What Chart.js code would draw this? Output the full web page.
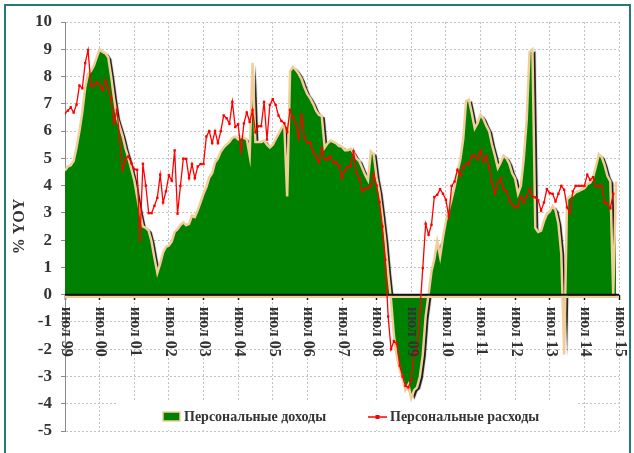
<!DOCTYPE html>
<html>
<head>
<meta charset="utf-8">
<script src="https://cdn.jsdelivr.net/npm/chart.js@4.4.1/dist/chart.umd.min.js"></script>
<style>
  html, body { margin: 0; padding: 0; background: #fff; }
  #wrap { position: relative; width: 634px; height: 453px; overflow: hidden; }
  #wrap canvas { position: absolute; left: 0; top: 0; }
  #frame { position: absolute; left: 4px; top: 4px; width: 623px; height: 470px;
           border: 2px solid #257a78; pointer-events: none; }
</style>
</head>
<body>
<div id="wrap">
  <canvas id="chart" width="634" height="453"></canvas>
  <div id="frame"></div>
</div>
<script>
// year ticks, one every 12 months starting July 1999
const tickLabels = ['июл 99', 'июл 00', 'июл 01', 'июл 02', 'июл 03', 'июл 04', 'июл 05', 'июл 06',
                    'июл 07', 'июл 08', 'июл 09', 'июл 10', 'июл 11', 'июл 12', 'июл 13', 'июл 14', 'июл 15'];
const seriesNames = ['Персональные доходы', 'Персональные расходы'];

// personal income, % YoY, monthly from Jul 99
const income = [
  4.55, 4.7, 4.75, 4.9, 5.4, 6.0, 6.7, 7.6, 8.1, 8.2, 8.4, 8.7,
  9.0, 8.9, 8.85, 8.7, 8.0, 7.2, 6.5, 6.15, 5.8, 5.35, 5.0, 4.6,
  4.2, 3.6, 3.0, 2.5, 2.45, 2.35, 1.95, 1.35, 0.8, 1.15, 1.55, 1.75,
  1.8, 1.95, 2.3, 2.4, 2.55, 2.65, 2.55, 2.6, 2.9, 2.85, 3.1, 3.4,
  3.7, 3.95, 4.3, 4.45, 4.85, 5.0, 5.25, 5.4, 5.5, 5.6, 5.75, 5.8,
  5.7, 5.8, 5.75, 5.7, 5.1, 8.5, 5.6, 5.6, 5.6, 5.65, 5.5, 5.4,
  5.5, 5.7, 5.9, 6.1, 6.25, 3.6, 8.2, 8.35, 8.25, 8.1, 7.9, 7.6,
  7.35, 7.2, 7.0, 6.75, 6.6, 6.55, 5.4, 5.55, 5.65, 5.6, 5.55, 5.45,
  5.43, 5.3, 5.3, 5.35, 5.2, 5.0, 4.9, 4.65, 4.4, 4.2, 5.25, 5.15,
  4.3, 3.75, 2.9, 2.0, 0.8, -0.2, -1.5, -2.25, -2.75, -3.1, -3.5, -3.3,
  -3.8, -3.5, -3.4, -3.0, -2.2, -0.8, 0.0, 0.85, 1.3, 1.95, 1.4, 2.1,
  2.7, 3.1, 3.5, 3.95, 4.5, 4.95, 5.7, 7.1, 7.15, 6.65, 6.1, 6.3,
  6.6, 6.45, 6.2, 6.0, 5.5, 5.1, 4.65, 4.85, 5.1, 5.0, 4.8, 4.45,
  4.25, 3.7, 4.0, 5.0, 6.4, 8.9, 9.0, 2.45, 2.3, 2.35, 2.7, 2.95,
  3.05, 3.25, 3.1, 2.6, 1.5, -2.2, 3.5, 3.6, 3.65, 3.75, 3.8, 3.85,
  3.9, 4.05, 4.1, 4.3, 4.7, 5.15, 5.05, 4.75, 4.35, 4.15, 0, 4.15
];

// personal spending, % YoY, monthly from Jul 99
const spending = [
  6.65, 6.75, 6.87, 6.68, 6.97, 7.67, 7.57, 8.49, 8.97, 7.66, 7.66, 7.79,
  7.69, 7.5, 7.86, 7.57, 7.19, 6.29, 6.78, 5.68, 4.58, 4.97, 5.07, 4.82,
  4.6, 4.58, 2.0, 4.8, 4.0, 2.99, 2.99, 3.26, 3.55, 4.4, 3.38, 3.79,
  4.38, 4.18, 5.29, 2.97, 3.99, 4.99, 4.98, 4.27, 4.79, 4.27, 4.7, 4.79,
  4.79, 5.8, 6.0, 5.56, 6.0, 5.56, 6.0, 6.57, 6.47, 6.27, 7.07, 6.15,
  6.25, 5.27, 6.28, 6.68, 6.34, 6.77, 5.96, 6.18, 6.18, 7.07, 5.69, 6.96,
  7.17, 6.96, 6.57, 6.37, 6.29, 5.97, 6.77, 6.5, 6.29, 5.74, 6.58, 5.76,
  5.58, 5.57, 5.25, 5.06, 4.85, 5.36, 4.97, 4.97, 5.07, 4.85, 4.85, 4.72,
  4.27, 4.56, 4.68, 4.72, 5.26, 4.48, 4.27, 3.79, 3.89, 3.9, 3.98, 4.4,
  4.0, 3.4, 2.5, 1.28, -0.8, -2.0, -1.7, -1.8, -2.6, -3.0, -3.35, -3.4,
  -3.15, -2.1, -2.1, -0.6, 0.98, 2.6, 2.2, 2.56, 3.58, 3.66, 3.87, 3.7,
  3.48, 2.87, 3.99, 4.15, 4.58, 4.36, 4.68, 4.79, 4.8, 5.09, 5.09, 4.97,
  5.29, 4.88, 5.09, 4.7, 4.11, 3.7, 4.09, 4.27, 3.87, 3.79, 3.48, 3.3,
  3.2, 3.26, 3.6, 3.38, 3.6, 3.87, 3.6, 3.57, 3.46, 3.08, 3.38, 3.87,
  3.72, 3.7, 3.42, 3.7, 3.99, 3.85, 3.2, 2.99, 3.79, 3.99, 3.99, 3.99,
  3.99, 4.4, 4.21, 4.31, 3.99, 3.99, 3.99, 3.38, 3.33, 3.17, 3.7
];

const serif = '"Liberation Serif", "Times New Roman", serif';
const ink = '#333333';
const green = '#008000';
const tan = '#f2cd98';
const gridGray = '#c2c2c2';

const toPoints = arr => arr.map((v, i) => ({ x: i, y: v }));

// Excel-like look: shadow under the area, axis band at zero, white legend box
const areaLook = {
  id: 'areaLook',
  beforeDatasetsDraw(chart) {
    const ctx = chart.ctx;
    ctx.fillStyle = '#fff';
    ctx.fillRect(118, 401, 460, 28);
    // filler paints the area right after this, so it picks up the shadow
    ctx.shadowColor = 'rgba(0,0,0,0.92)';
    ctx.shadowOffsetX = 3;
    ctx.shadowOffsetY = 1.5;
    ctx.shadowBlur = 1;
  },
  beforeDatasetDraw(chart) {
    const ctx = chart.ctx;
    ctx.shadowColor = 'rgba(0,0,0,0)';
    ctx.shadowOffsetX = 0;
    ctx.shadowOffsetY = 0;
    ctx.shadowBlur = 0;
  },
  afterDatasetDraw(chart, args) {
    if (args.index !== 0) return;
    const { ctx, chartArea, scales: { y } } = chart;
    const y0 = y.getPixelForValue(0);
    ctx.save();
    ctx.lineWidth = 2.5;
    ctx.strokeStyle = tan;
    ctx.beginPath();
    ctx.moveTo(chartArea.left, y0 + 2);
    ctx.lineTo(chartArea.right, y0 + 2);
    ctx.stroke();
    ctx.lineWidth = 2;
    ctx.strokeStyle = '#111';
    ctx.beginPath();
    ctx.moveTo(chartArea.left, y0);
    ctx.lineTo(chartArea.right, y0);
    ctx.stroke();
    ctx.restore();
  }
};

// vertical year labels hanging under the zero line + legend
const labelsAndLegend = {
  id: 'labelsAndLegend',
  afterDraw(chart) {
    const { ctx, scales: { x, y } } = chart;
    const y0 = y.getPixelForValue(0);
    ctx.save();
    ctx.fillStyle = ink;
    ctx.font = 'bold 16px ' + serif;
    ctx.textAlign = 'left';
    ctx.textBaseline = 'middle';
    tickLabels.forEach((t, i) => {
      ctx.save();
      ctx.translate(x.getPixelForValue(i * 12) + 1, y0 + 12);
      ctx.rotate(Math.PI / 2);
      ctx.fillText(t, 0, 0);
      ctx.restore();
    });

    // legend
    const ly = 417;
    ctx.fillStyle = green;
    ctx.fillRect(163, ly - 5, 17, 9);
    ctx.strokeStyle = tan;
    ctx.lineWidth = 1.5;
    ctx.strokeRect(163, ly - 5, 17, 9);
    ctx.fillStyle = ink;
    ctx.font = 'bold 14px ' + serif;
    ctx.fillText(chart.data.datasets[0].label, 184, ly);

    ctx.strokeStyle = '#ff0000';
    ctx.lineWidth = 1.5;
    ctx.beginPath();
    ctx.moveTo(368, ly);
    ctx.lineTo(387, ly);
    ctx.stroke();
    ctx.fillStyle = '#ff0000';
    ctx.fillRect(375.5, ly - 2, 4, 4);
    ctx.fillStyle = ink;
    ctx.fillText(chart.data.datasets[1].label, 390, ly);
    ctx.restore();
  }
};

new Chart(document.getElementById('chart'), {
  type: 'line',
  data: {
    datasets: [
      {
        label: seriesNames[0],
        data: toPoints(income),
        fill: 'origin',
        backgroundColor: green,
        borderColor: tan,
        borderWidth: 2.5,
        pointRadius: 0,
        tension: 0,
        order: 1
      },
      {
        label: seriesNames[1],
        data: toPoints(spending),
        fill: false,
        borderColor: '#ff0000',
        backgroundColor: '#ff0000',
        borderWidth: 1.3,
        pointStyle: 'rect',
        pointRadius: 1.7,
        pointBorderWidth: 0,
        tension: 0,
        order: 0
      }
    ]
  },
  options: {
    responsive: false,
    animation: false,
    events: [],
    layout: { padding: { left: 0, right: 15, top: 22, bottom: 22 } },
    plugins: {
      legend: { display: false },
      tooltip: { enabled: false }
    },
    scales: {
      x: {
        type: 'linear',
        position: { y: 0 },
        min: 0,
        max: 192,
        ticks: { stepSize: 12, display: false },
        grid: { color: gridGray, lineWidth: 1, tickLength: 5, tickColor: '#111', tickWidth: 1.5, tickBorderDash: [] },
        border: { display: false, dash: [2, 2] }
      },
      y: {
        min: -5,
        max: 10,
        ticks: { stepSize: 1, color: ink, padding: 9, font: { family: serif, size: 17, weight: 'bold' } },
        grid: { color: gridGray, lineWidth: 1, tickLength: 4, tickColor: '#8a8a8a', tickBorderDash: [] },
        border: { display: true, color: '#8a8a8a', width: 1, dash: [2, 2] },
        title: {
          display: true,
          text: '% YOY',
          color: ink,
          font: { family: serif, size: 16, weight: 'bold' },
          padding: { top: 10, bottom: 0 }
        },
        afterFit(scale) { scale.width = 65; }
      }
    }
  },
  plugins: [areaLook, labelsAndLegend]
});
</script>
</body>
</html>
